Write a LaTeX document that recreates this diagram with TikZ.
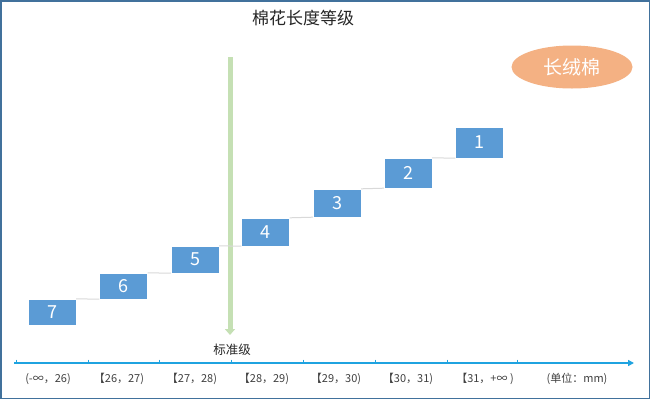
\documentclass[tikz,border=0pt]{standalone}
\usepackage{fontspec}
\newfontfamily\cjk{Noto Sans CJK SC}
\usetikzlibrary{shapes.geometric,arrows.meta}
\definecolor{boxblue}{HTML}{5B9BD5}
\definecolor{framecol}{HTML}{41719C}
\definecolor{stdgreen}{HTML}{C5E0B4}
\definecolor{axisblue}{HTML}{1FA3E0}
\definecolor{ovalorange}{HTML}{F4B183}
\definecolor{stepgray}{HTML}{D9D9D9}
\definecolor{txtgray}{HTML}{404040}
\tikzset{
  gradebox/.style={rectangle, fill=boxblue, draw=white, line width=0.4pt, minimum width=48pt, text=white, inner sep=0pt, font=\cjk\fontsize{18}{18}\selectfont},
  stepline/.style={draw=stepgray, line width=1pt},
  ticklab/.style={text=txtgray, font=\cjk\fontsize{11}{13}\selectfont, inner sep=0pt},
  axistick/.style={draw=axisblue, line width=0.8pt}
}
\begin{document}
\begin{tikzpicture}[x=1pt,y=-1pt]
\useasboundingbox (0,0) rectangle (650,399);
\fill[white] (0,0) rectangle (650,399);
\draw[framecol, line width=1.5pt] (0.75,0.75) rectangle (649.25,398.25);

% title
\node[font=\cjk\fontsize{17}{20}\selectfont, text=black!85] (title) at (303,18) {棉花长度等级};

% oval
\node[ellipse, fill=ovalorange, minimum width=121pt, minimum height=43pt, text=white, font=\cjk\fontsize{19}{20}\selectfont] (oval) at (572,67) {长绒棉};

% standard arrow
\coordinate (sa) at (230,57);
\coordinate (sb) at (230,335);
\draw[stdgreen, line width=5pt, -{Triangle[width=10pt,length=6pt]}] (sa) -- (sb);
\node[font=\cjk\fontsize{12.5}{14}\selectfont, text=black!85] (std) at (232,350) {标准级};

% boxes
\node[gradebox, minimum height=26pt] (g7) at (52,312) {7};
\node[gradebox, minimum height=26pt] (g6) at (123.5,286) {6};
\node[gradebox, minimum height=27pt] (g5) at (195,259.5) {5};
\node[gradebox, minimum height=28pt] (g4) at (265.5,232) {4};
\node[gradebox, minimum height=28pt] (g3) at (337,203) {3};
\node[gradebox, minimum height=30pt] (g2) at (408,173) {2};
\node[gradebox, minimum height=31pt] (g1) at (479.5,142.5) {1};

\draw[stepline] (g7.north east) -- (g6.south west);
\draw[stepline] (g6.north east) -- (g5.south west);
\draw[stepline] (g5.north east) -- (g4.south west);
\draw[stepline] (g4.north east) -- (g3.south west);
\draw[stepline] (g3.north east) -- (g2.south west);
\draw[stepline] (g2.north east) -- (g1.south west);

% axis
\coordinate (a0) at (14,363);
\coordinate (a1) at (634,363);
\draw[axisblue, line width=1.6pt, -{Triangle[width=6pt,length=6pt]}] (a0) -- (a1);
\foreach \x in {16,88,159,231,303,375,447,517}{
  \draw[axistick] (\x,359.5) -- (\x,363);
}

% interval labels
\node[ticklab] (l7) at (48,379) {(-∞，26)};
\node[ticklab] (l6) at (119,379) {【26，27)};
\node[ticklab] (l5) at (192,379) {【27，28)};
\node[ticklab] (l4) at (264,379) {【28，29)};
\node[ticklab] (l3) at (336,379) {【29，30)};
\node[ticklab] (l2) at (408,379) {【30，31)};
\node[ticklab] (l1) at (485,379) {【31，+∞ )};
\node[ticklab] (unit) at (577,379) {(单位：mm)};
\end{tikzpicture}
\end{document}
